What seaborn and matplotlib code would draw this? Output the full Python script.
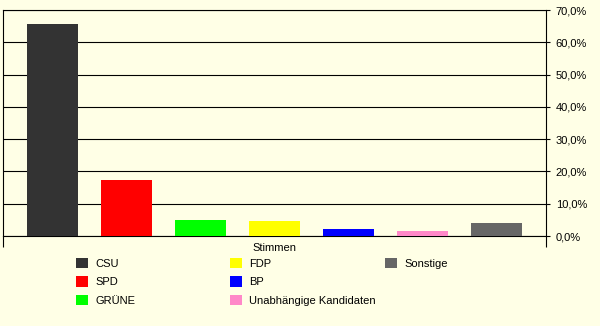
import matplotlib
matplotlib.use("Agg")
import matplotlib.pyplot as plt
import seaborn as sns
import pandas as pd
from matplotlib.patches import Patch
from matplotlib.ticker import FuncFormatter

parties = ["CSU", "SPD", "GRÜNE", "FDP", "BP", "Unabhängige Kandidaten", "Sonstige"]
values = [65.6, 17.3, 4.9, 4.6, 2.1, 1.5, 4.0]
colors = ["#333333", "#FF0000", "#00FF00", "#FFFF00", "#0000FF", "#FF88C8", "#666666"]
yticks = [0, 10, 20, 30, 40, 50, 60, 70]
xlabel = "Stimmen"

sns.set_theme(style="white")
plt.rcParams["font.family"] = ["Liberation Sans", "DejaVu Sans"]

bg = "#FFFFE6"
W, H = 600, 326
fig = plt.figure(figsize=(6.0, 3.26), dpi=100, facecolor=bg)
ax = fig.add_axes([3 / W, 1 - 236 / H, 543 / W, 226 / H])
ax.set_facecolor(bg)

df = pd.DataFrame({"party": parties, "value": values})
sns.barplot(data=df, x="party", y="value", hue="party", palette=colors,
            width=0.69, saturation=1, dodge=False, legend=False, ax=ax, zorder=3)
for p in ax.patches:
    p.set_linewidth(0)

ax.set_xlim(-0.669, 6.669)
ax.set_ylim(0, 70)
ax.set_xticks([-0.669, 6.669])
ax.set_xticklabels([])
ax.tick_params(axis="x", direction="out", length=8.0, width=0.8, color="black", bottom=True)
ax.set_xlabel("")
ax.set_ylabel("")

ax.yaxis.tick_right()
ax.set_yticks(yticks)
ax.yaxis.set_major_formatter(FuncFormatter(lambda v, _: f"{v:.1f}".replace(".", ",") + "%"))
ax.tick_params(axis="y", direction="out", length=3, width=0.8, color="black",
               pad=4, labelsize=8, labelcolor="black", right=True, left=False)
ax.grid(axis="y", color="black", linewidth=0.8, zorder=1)
ax.set_axisbelow(True)
for s in ax.spines.values():
    s.set_visible(True)
    s.set_color("black")
    s.set_linewidth(0.8)

ax.text(0.5, -0.053, xlabel, transform=ax.transAxes, ha="center", va="center",
        fontsize=8, color="black")

handles = [Patch(facecolor=c, edgecolor="none", label=l) for c, l in zip(colors, parties)]
groups = [handles[0:3], handles[3:6], handles[6:7]]
xs = [76, 230, 385]
for grp, x0 in zip(groups, xs):
    leg = fig.legend(handles=grp, loc="upper left", bbox_to_anchor=(x0 / W, 1 - 257.5 / H),
                     frameon=False, fontsize=8, handlelength=1.08, handleheight=1.08,
                     handletextpad=0.65, labelspacing=0.68, borderpad=0, borderaxespad=0)
    for t in leg.get_texts():
        t.set_color("black")

fig.savefig("out.png", dpi=100, facecolor=bg)
